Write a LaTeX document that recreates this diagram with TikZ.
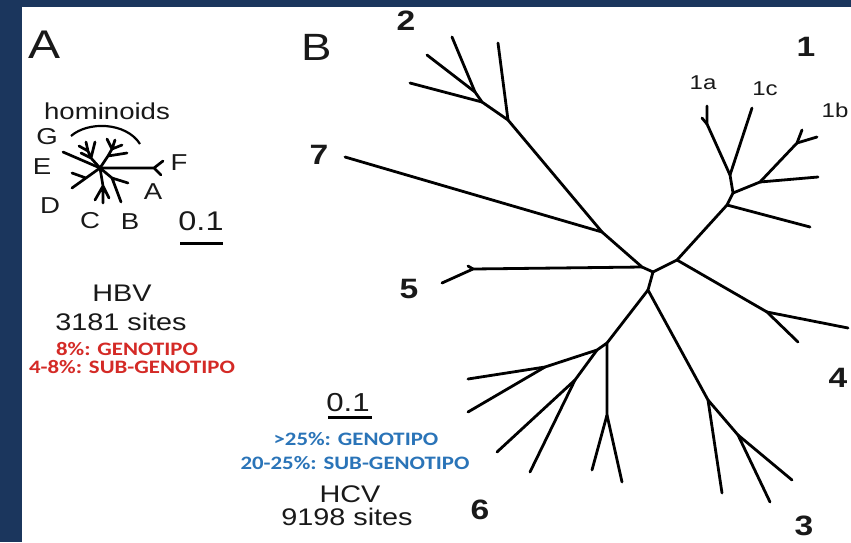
\documentclass[tikz,border=0pt]{standalone}
\usepackage{fontspec}
\setmainfont{Liberation Sans}
\newfontfamily\carlito{Carlito}
\definecolor{navy}{HTML}{1B365D}
\definecolor{gredtxt}{HTML}{D42A26}
\definecolor{gbluetxt}{HTML}{2A74B8}
% horizontally widened text
\newcommand{\stretchx}[1]{\scalebox{1.2}[1]{#1}}
\newcommand{\fsz}[1]{\fontsize{#1}{#1}\selectfont}
\tikzset{
  br/.style={line width=2.8pt, line cap=round, line join=round, black},
  bra/.style={line width=2.7pt, line cap=round, line join=round, black},
  txt/.style={inner sep=0pt, text=black!90},
  clade/.style={txt, font=\fsz{28}\bfseries},
  sub/.style={txt, font=\fsz{20}},
  leaf/.style={txt, font=\fsz{23}},
  redlbl/.style={inner sep=0pt, text=gredtxt, font=\carlito\fsz{19}\bfseries},
  bluelbl/.style={inner sep=0pt, text=gbluetxt, font=\carlito\fsz{19}\bfseries},
}
\begin{document}
\begin{tikzpicture}[x=1pt,y=-1pt]
\useasboundingbox (0,0) rectangle (851,542);
% frame
\fill[navy] (0,0) rectangle (851,542);
\fill[white] (22,7) rectangle (851,542);

% ---------- panel A ----------
\node[txt, font=\fsz{40}] (labA) at (45,45) {\stretchx{A}};
\node[leaf] (hom) at (107,111) {\stretchx{hominoids}};
\node[leaf] (lG) at (47,137) {\stretchx{G}};
\node[leaf] (lE) at (42,167) {\stretchx{E}};
\node[leaf] (lF) at (179,163) {\stretchx{F}};
\node[leaf] (lA) at (153,192) {\stretchx{A}};
\node[leaf] (lD) at (50,206) {\stretchx{D}};
\node[leaf] (lC) at (90,221) {\stretchx{C}};
\node[leaf] (lB) at (130,222) {\stretchx{B}};
\node[txt, font=\fsz{27}] (scA) at (201,221) {\stretchx{0.1}};
\coordinate (scA1) at (180,243);
\coordinate (scA2) at (223,243);
\draw[line width=3pt] (scA1) -- (scA2);

% tree A
\coordinate (ac) at (100,168);
\coordinate (tE) at (63,152);
\coordinate (fF) at (154,168);
\coordinate (tF1) at (163,161);
\coordinate (tF2) at (161,175);
\coordinate (ul) at (91,158);
\coordinate (ul2) at (88,151);
\coordinate (tul1) at (79,146);
\coordinate (tul2) at (86,142);
\coordinate (tul3) at (95,142);
\coordinate (tul4) at (81,153);
\coordinate (ur) at (108,156);
\coordinate (ur2) at (112,149);
\coordinate (tur1) at (107,139);
\coordinate (tur2) at (115,140);
\coordinate (tur3) at (122,145);
\coordinate (tur4) at (127,153);
\coordinate (ll) at (86,178);
\coordinate (tll1) at (72,173);
\coordinate (tll2) at (72,188);
\coordinate (lo) at (103,186);
\coordinate (tlo1) at (95,200);
\coordinate (tlo2) at (103,203);
\coordinate (tlo3) at (109,198);
\coordinate (lr) at (112,178);
\coordinate (tA) at (128,183);
\coordinate (tB) at (121,202);
\draw[bra] (ac) -- (tE);
\draw[bra] (ac) -- (fF) (fF) -- (tF1) (fF) -- (tF2);
\draw[bra] (ac) -- (ul) -- (ul2) (ul2) -- (tul1) (ul2) -- (tul2) (ul) -- (tul3) (ul) -- (tul4);
\draw[bra] (ac) -- (ur) -- (ur2) (ur2) -- (tur1) (ur2) -- (tur2) (ur2) -- (tur3) (ur) -- (tur4);
\draw[bra] (ac) -- (ll) (ll) -- (tll1) (ll) -- (tll2);
\draw[bra] (ac) -- (lo) (lo) -- (tlo1) (lo) -- (tlo2) (lo) -- (tlo3);
\draw[bra] (ac) -- (lr) (lr) -- (tA) (lr) -- (tB);
\coordinate (arc1) at (71,136);
\coordinate (arc2) at (140,144);
\draw[line width=2.2pt] (arc1) .. controls (88,121) and (126,122) .. (arc2);

% HBV text
\node[txt, font=\fsz{24}] (hbv) at (122,293) {\stretchx{HBV}};
\node[txt, font=\fsz{24}] (hbvs) at (121,322) {\stretchx{3181 sites}};
\node[redlbl] (hbv1) at (127,349) {\stretchx{8\%: GENOTIPO}};
\node[redlbl] (hbv2) at (132,367) {\stretchx{4-8\%: SUB-GENOTIPO}};

% ---------- panel B ----------
\node[txt, font=\fsz{38}] (labB) at (317,47) {\stretchx{B}};
\node[clade] (c2) at (406,21) {\stretchx{2}};
\node[clade] (c7) at (319,155) {\stretchx{7}};
\node[clade] (c5) at (409,289) {\stretchx{5}};
\node[clade] (c6) at (480,510) {\stretchx{6}};
\node[clade] (c3) at (804,526) {\stretchx{3}};
\node[clade] (c4) at (838,378) {\stretchx{4}};
\node[clade] (c1) at (806,47) {\stretchx{1}};
\node[sub] (s1a) at (703,83) {\stretchx{1a}};
\node[sub] (s1c) at (765,89) {\stretchx{1c}};
\node[sub] (s1b) at (835,110) {\stretchx{1b}};

% tree B: junctions
\coordinate (C0) at (653,272);
\coordinate (N5) at (642,267);
\coordinate (N27) at (602,232);
\coordinate (N2a) at (508,120);
\coordinate (N2b) at (482,102);
\coordinate (N2c) at (475,92);
\coordinate (J5) at (473,269);
\coordinate (C1) at (677,260);
\coordinate (N1a) at (727,205);
\coordinate (N1b) at (733,193);
\coordinate (N1ac) at (730,175);
\coordinate (N1aa) at (707,124);
\coordinate (N1c) at (760,182);
\coordinate (N1d) at (797,143);
\coordinate (N4) at (767,312);
\coordinate (C2) at (648,290);
\coordinate (N3a) at (708,400);
\coordinate (N3b) at (738,435);
\coordinate (N6a) at (607,343);
\coordinate (N6v) at (607,415);
\coordinate (N6b) at (597,350);
\coordinate (N61) at (545,367);
\coordinate (N62) at (575,380);
% tree B: tips
\coordinate (t7) at (345,157);
\coordinate (t2a) at (498,43);
\coordinate (t2b) at (410,83);
\coordinate (t2c) at (427,55);
\coordinate (t2d) at (452,37);
\coordinate (t5) at (442,283);
\coordinate (t5s) at (468,266);
\coordinate (t1low) at (810,227);
\coordinate (t1a) at (707,106);
\coordinate (t1as) at (702,118);
\coordinate (t1c) at (752,108);
\coordinate (t1h) at (818,177);
\coordinate (t1b1) at (802,130);
\coordinate (t1b2) at (817,137);
\coordinate (t4a) at (798,342);
\coordinate (t4b) at (848,328);
\coordinate (t3a) at (722,493);
\coordinate (t3b) at (792,480);
\coordinate (t3c) at (770,502);
\coordinate (t6a) at (592,470);
\coordinate (t6b) at (622,482);
\coordinate (t6c) at (468,379);
\coordinate (t6d) at (468,412);
\coordinate (t6e) at (497,452);
\coordinate (t6f) at (530,472);

% tree B: branches
\draw[br] (C0) -- (N5) -- (N27) -- (N2a) -- (N2b) -- (N2c) -- (t2c);
\draw[br] (N2c) -- (t2d);
\draw[br] (N2b) -- (t2b);
\draw[br] (N2a) -- (t2a);
\draw[br] (N27) -- (t7);
\draw[br] (N5) -- (J5) -- (t5);
\draw[br] (J5) -- (t5s);
\draw[br] (C0) -- (C1) -- (N1a) -- (N1b) -- (N1ac) -- (N1aa) -- (t1a);
\draw[br] (N1aa) -- (t1as);
\draw[br] (N1ac) -- (t1c);
\draw[br] (N1a) -- (t1low);
\draw[br] (N1b) -- (N1c) -- (N1d) -- (t1b1);
\draw[br] (N1d) -- (t1b2);
\draw[br] (N1c) -- (t1h);
\draw[br] (C1) -- (N4) -- (t4a);
\draw[br] (N4) -- (t4b);
\draw[br] (C0) -- (C2) -- (N3a) -- (t3a);
\draw[br] (N3a) -- (N3b) -- (t3b);
\draw[br] (N3b) -- (t3c);
\draw[br] (C2) -- (N6a) -- (N6v) -- (t6a);
\draw[br] (N6v) -- (t6b);
\draw[br] (N6a) -- (N6b) -- (N61) -- (t6c);
\draw[br] (N61) -- (t6d);
\draw[br] (N6b) -- (N62) -- (t6e);
\draw[br] (N62) -- (t6f);

% scale bar and HCV text
\node[txt, font=\fsz{26}] (scB) at (348,403) {\stretchx{0.1}};
\coordinate (scB1) at (328,417);
\coordinate (scB2) at (372,417);
\draw[line width=3pt] (scB1) -- (scB2);
\node[bluelbl] (hcv1) at (356,439) {\stretchx{>25\%: GENOTIPO}};
\node[bluelbl] (hcv2) at (355,463) {\stretchx{20-25\%: SUB-GENOTIPO}};
\node[txt, font=\fsz{24}] (hcv) at (350,494) {\stretchx{HCV}};
\node[txt, font=\fsz{24}] (hcvs) at (347,517) {\stretchx{9198 sites}};
\end{tikzpicture}
\end{document}
